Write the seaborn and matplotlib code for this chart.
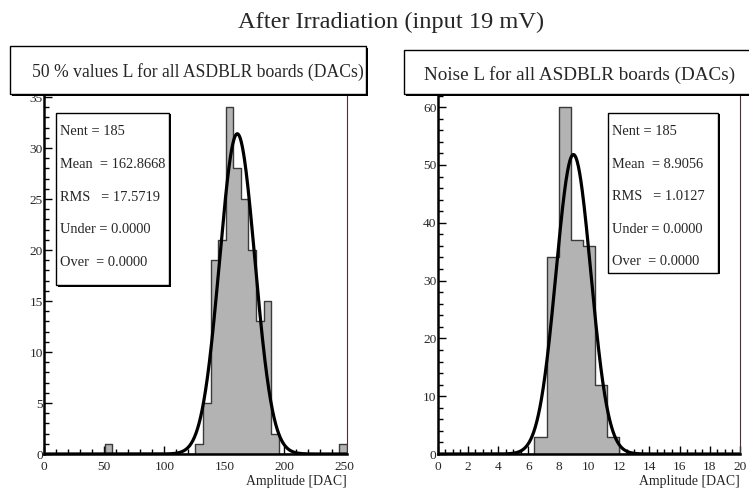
import numpy as np
import pandas as pd
import seaborn as sns
import matplotlib.pyplot as plt
from matplotlib.patches import Rectangle

# ---------------- data ----------------
main_title = "After Irradiation (input 19 mV)"
left_title = "50 % values L for all ASDBLR boards (DACs)"
right_title = "Noise L for all ASDBLR boards (DACs)"
xlabel = "Amplitude [DAC]"

left_range = (0.0, 252.0)
left_nbins = 40
left_counts = [0, 0, 0, 0, 0, 0, 0, 0, 1, 0,
               0, 0, 0, 0, 0, 0, 0, 0, 0, 0,
               1, 5, 19, 21, 34, 28, 25, 20, 13, 15,
               2, 0, 0, 0, 0, 0, 0, 0, 0, 1]
left_fit = dict(amp=31.4, mu=160.8, sigma=14.7)
left_stats = ["Nent = 185", "Mean  = 162.8668", "RMS   = 17.5719",
              "Under = 0.0000", "Over  = 0.0000"]

right_range = (0.0, 20.0)
right_nbins = 25
right_counts = [0, 0, 0, 0, 0, 0, 0, 0, 3, 34,
                60, 37, 36, 12, 3, 0, 0, 0, 0, 0,
                0, 0, 0, 0, 0]
right_fit = dict(amp=51.8, mu=8.98, sigma=1.15)
right_stats = ["Nent = 185", "Mean  = 8.9056", "RMS   = 1.0127",
               "Under = 0.0000", "Over  = 0.0000"]

# ---------------- style ----------------
sns.set_style("ticks")
plt.rcParams['font.family'] = ['Liberation Serif', 'DejaVu Serif']
plt.rcParams['mathtext.fontset'] = 'stix'

W, H = 749, 490
fig = plt.figure(figsize=(W / 100, H / 100), dpi=100)
fig.patch.set_facecolor("white")


def fx(x):
    return x / W


def fy(y):
    return 1 - y / H


def px_rect(x0, y0, x1, y1):
    return [fx(x0), fy(y1), fx(x1) - fx(x0), fy(y0) - fy(y1)]


FILL = "#b3b3b3"
EDGE = "#3a3a3a"


def draw_panel(rect, rng, nbins, counts, fit, ylim, xmaj, xmin, ymaj, ymin):
    ax = fig.add_axes(rect)
    width = (rng[1] - rng[0]) / nbins
    centers = rng[0] + width * (np.arange(nbins) + 0.5)
    df = pd.DataFrame({"x": centers, "w": np.asarray(counts, dtype=float)})
    sns.histplot(data=df, x="x", weights="w", bins=nbins, binrange=rng,
                 element="step", color=FILL, alpha=1.0, edgecolor=EDGE,
                 linewidth=1.0, ax=ax)
    xs = np.linspace(rng[0], rng[1], 800)
    ys = fit["amp"] * np.exp(-0.5 * ((xs - fit["mu"]) / fit["sigma"]) ** 2)
    sns.lineplot(x=xs, y=ys, color="black", linewidth=2.3, ax=ax)
    ax.set_xlim(*rng)
    ax.set_ylim(*ylim)
    ax.set_xlabel("")
    ax.set_ylabel("")
    xt = np.arange(rng[0], rng[1] + 1e-9, xmaj)
    ax.set_xticks(xt)
    ax.set_xticks(np.arange(rng[0], rng[1] + 1e-9, xmin), minor=True)
    ax.set_xticklabels([f"{v:g}" for v in xt])
    ax.set_yticks(np.arange(0, ylim[1], ymaj))
    ax.set_yticks(np.arange(0, ylim[1], ymin), minor=True)
    ax.tick_params(axis="both", which="major", direction="in", length=6,
                   width=1.0, labelsize=9.6, color="black")
    ax.tick_params(axis="x", which="major", pad=5)
    ax.tick_params(axis="y", which="major", pad=1)
    ax.tick_params(axis="both", which="minor", direction="in", length=3.5,
                   width=1.0, color="black")
    for s in ["left", "bottom"]:
        ax.spines[s].set_linewidth(1.8)
        ax.spines[s].set_color("black")
    ax.spines["right"].set_visible(True)
    ax.spines["right"].set_linewidth(0.8)
    ax.spines["right"].set_color("#4a3030")
    ax.spines["top"].set_visible(False)
    ax.grid(False)
    ax.set_facecolor("white")
    return ax


axL = draw_panel(px_rect(44.3, 95, 346.7, 454), left_range, left_nbins,
                 left_counts, left_fit, (0, 35.2), 50, 10, 5, 1)
axR = draw_panel(px_rect(437.7, 95, 740, 454), right_range, right_nbins,
                 right_counts, right_fit, (0, 62.1), 2, 0.5, 10, 2)

# x labels
for xr in (346.7, 740):
    fig.text(fx(xr), fy(485), xlabel, ha="right", va="baseline", fontsize=9.9)


def shadow_box(x0, y0, x1, y1, lw=1.0, sh=2.0, z=10):
    fig.patches.append(Rectangle((fx(x0 + sh), fy(y1 + sh)),
                                 fx(x1) - fx(x0), fy(y0) - fy(y1),
                                 transform=fig.transFigure, facecolor="black",
                                 edgecolor="none", zorder=z))
    fig.patches.append(Rectangle((fx(x0), fy(y1)), fx(x1) - fx(x0),
                                 fy(y0) - fy(y1), transform=fig.transFigure,
                                 facecolor="white", edgecolor="black",
                                 linewidth=lw, zorder=z + 1))


# title boxes
shadow_box(10, 46.5, 365.5, 94)
fig.text(fx(32), fy(72.5), left_title, ha="left", va="center",
         fontsize=12.7, zorder=20)
shadow_box(404, 50, 770, 94)
fig.text(fx(424), fy(75.5), right_title, ha="left", va="center",
         fontsize=13.8, zorder=20)

# stats boxes
shadow_box(56, 113, 169, 285, sh=1.5)
for i, t in enumerate(left_stats):
    fig.text(fx(60.5), fy(131.5 + i * 32.8), t, ha="left", va="center",
             fontsize=10.4, zorder=20)
shadow_box(608, 113, 718, 273, sh=1.5)
for i, t in enumerate(right_stats):
    fig.text(fx(612), fy(131.5 + i * 32.6), t, ha="left", va="center",
             fontsize=10.4, zorder=20)

fig.text(fx(391.5), fy(22), main_title, ha="center", va="center",
         fontsize=17.6)

fig.savefig("out.png", dpi=100, facecolor="white")
